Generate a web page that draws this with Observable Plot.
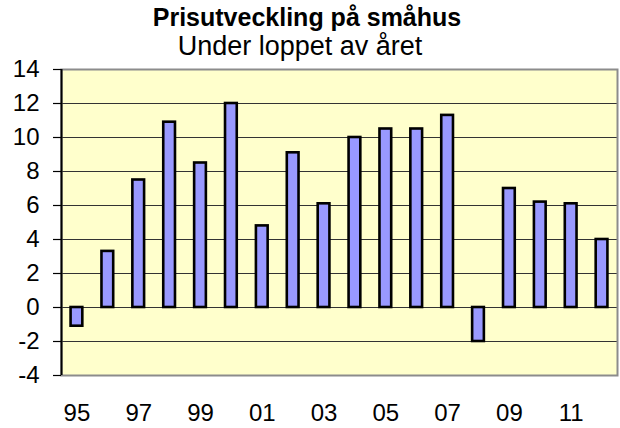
<!DOCTYPE html>
<html><head><meta charset="utf-8">
<script src="https://cdn.jsdelivr.net/npm/d3@7"></script>
<script src="https://cdn.jsdelivr.net/npm/@observablehq/plot@0.6"></script>
<style>
body{margin:0;background:#fff;font-family:"Liberation Sans",Arial,sans-serif;}
#wrap{position:relative;width:620px;height:428px;}
.t{position:absolute;left:0;text-align:center;white-space:nowrap;color:#000;}
#title{top:5px;width:614px;font-size:25px;font-weight:bold;line-height:25px;}
#sub{top:33px;width:600px;font-size:27px;line-height:27px;}
</style></head><body>
<div id="wrap"><div id="chart"></div><div class="t" id="title">Prisutveckling på småhus</div><div class="t" id="sub">Under loppet av året</div></div>
<script>
const years = ["95","96","97","98","99","00","01","02","03","04","05","06","07","08","09","10","11","12"];
const values = [-1.1, 3.3, 7.5, 10.9, 8.5, 12.0, 4.8, 9.1, 6.1, 10.0, 10.5, 10.5, 11.3, -2.0, 7.0, 6.2, 6.1, 4.0];
const yTicks = [-4, -2, 0, 2, 4, 6, 8, 10, 12, 14];
const gridTicks = [-2, 0, 2, 4, 6, 8, 10, 12];
const xTickLabels = ["95","97","99","01","03","05","07","09","11"];

const data = years.map((y, i) => ({i, year: y, value: values[i]}));
const xTickIdx = xTickLabels.map(l => years.indexOf(l));
const half = 0.19;

const chart = Plot.plot({
  width: 620,
  height: 428,
  marginTop: 69,
  marginBottom: 53,
  marginLeft: 61,
  marginRight: 3,
  style: {fontFamily: "'Liberation Sans', Arial, sans-serif", fontSize: "24px", background: "transparent", overflow: "visible", color: "#000"},
  x: {type: "linear", domain: [-0.5, years.length - 0.5], label: null},
  y: {domain: [-4, 14], label: null},
  marks: [
    Plot.frame({fill: "#ffffcc", stroke: "none"}),
    Plot.gridY(gridTicks, {stroke: "#333", strokeOpacity: 1, strokeWidth: 1.2}),
    Plot.rect(data, {x1: d => d.i - half, x2: d => d.i + half, y1: () => 0, y2: "value", fill: "#9999ff", stroke: "#000", strokeWidth: 2.6}),
    Plot.frame({fill: "none", stroke: "#8c8c8c", strokeWidth: 2}),
    Plot.ruleX([-0.5], {stroke: "#000", strokeWidth: 2}),
    Plot.axisY(yTicks, {label: null, tickSize: 8, tickPadding: 14, fontSize: 24, stroke: "#000", strokeWidth: 1.2, tickFormat: d => String(d)}),
    Plot.axisX(xTickIdx, {label: null, tickSize: 0, tickPadding: 28, fontSize: 24, tickFormat: i => years[i]})
  ]
});
document.getElementById("chart").appendChild(chart);
</script>
</body></html>
